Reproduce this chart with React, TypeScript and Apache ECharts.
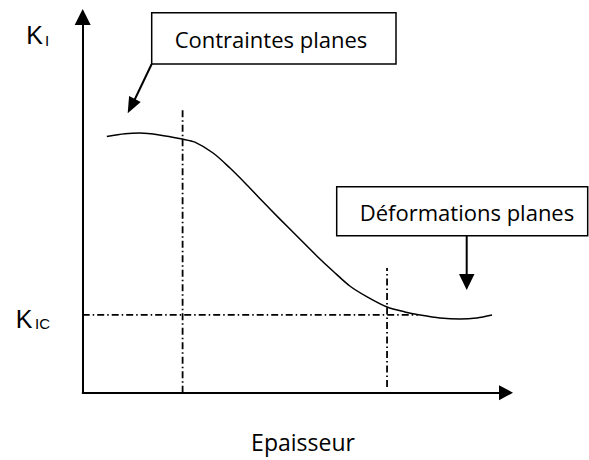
import React, { useEffect, useRef } from "react";
import * as echarts from "echarts";

// Curve K_I vs thickness (arbitrary units, x: 0-100, y: 0-100)
const curveX = [5.7, 10.0, 13.5, 18.1, 23.5, 26.5, 30.8, 34.8, 38.8, 42.6, 46.6, 51.3, 55.3, 59.1, 63.1, 67.2, 71.9, 76.1, 79.7, 84.4, 89.1, 93.1, 96.7];
const curveY = [68.2, 68.9, 69.1, 68.6, 67.5, 66.7, 63.8, 59.8, 55.3, 50.8, 46.2, 40.9, 36.4, 32.4, 28.4, 25.5, 22.8, 21.5, 20.7, 19.9, 19.6, 19.9, 20.7];

// Reference lines
const kIC = 20.7;
const kICEndX = 79.2;
const planeStressX = 23.6;
const planeStressTop = 75.2;
const planeStrainX = 71.9;
const planeStrainRange = [1.5, 33.2];

const labels = {
  yName: "K",
  ySub: "I",
  kicMain: "K",
  kicSub: "IC",
  xName: "Epaisseur",
  box1: "Contraintes planes",
  box2: "Déformations planes",
};

const FONT = "'Open Sans', sans-serif";
const KFONT = "'Liberation Sans', Arial, sans-serif";

export default function App() {
  const ref = useRef<HTMLDivElement>(null);
  useEffect(() => {
    if (!ref.current) return;
    const chart = echarts.init(ref.current, null, { renderer: "svg" });
    const dashDot = { color: "#000", width: 1.8, type: [7, 3, 1.5, 3] as any };
    const axisCommon = {
      type: "value" as const,
      min: 0,
      max: 100,
      axisTick: { show: false },
      axisLabel: { show: false },
      splitLine: { show: false },
    };
    chart.setOption({
      animation: false,
      backgroundColor: "#fff",
      grid: { left: 82.7, right: 83, top: 17, bottom: 67.3 },
      xAxis: {
        ...axisCommon,
        axisLine: { show: true, symbol: ["none", "triangle"], symbolSize: [15, 14], lineStyle: { color: "#000", width: 2 } },
      },
      yAxis: {
        ...axisCommon,
        axisLine: { show: true, symbol: ["none", "triangle"], symbolSize: [16, 16], lineStyle: { color: "#000", width: 2 } },
      },
      series: [
        {
          type: "line",
          data: curveX.map((x, i) => [x, curveY[i]]),
          smooth: 0.3,
          symbol: "none",
          lineStyle: { color: "#000", width: 1.5 },
          z: 3,
        },
        {
          type: "line",
          data: [[0, kIC], [kICEndX, kIC]],
          symbol: "none",
          lineStyle: dashDot,
        },
        {
          type: "line",
          data: [[planeStressX, 0], [planeStressX, planeStressTop]],
          symbol: "none",
          lineStyle: dashDot,
        },
        {
          type: "line",
          data: [[planeStrainX, planeStrainRange[0]], [planeStrainX, planeStrainRange[1]]],
          symbol: "none",
          lineStyle: dashDot,
        },
      ],
      graphic: [
        { type: "rect", shape: { x: 151.7, y: 12.7, width: 244.3, height: 51.3 }, style: { fill: "#fff", stroke: "#000", lineWidth: 1.5 } },
        { type: "text", x: 271, y: 38.5, style: { text: labels.box1, fontSize: 22, fontFamily: FONT, fill: "#000", align: "center", verticalAlign: "middle" } },
        { type: "line", shape: { x1: 151.7, y1: 64, x2: 134.5, y2: 100 }, style: { stroke: "#000", lineWidth: 2 } },
        { type: "polygon", shape: { points: [[127.7, 113.3], [129.1, 96.1], [140.7, 101.9]] }, style: { fill: "#000" } },

        { type: "rect", shape: { x: 336.7, y: 186.7, width: 251, height: 49 }, style: { fill: "#fff", stroke: "#000", lineWidth: 1.5 } },
        { type: "text", x: 467, y: 211.5, style: { text: labels.box2, fontSize: 22, fontFamily: FONT, fill: "#000", align: "center", verticalAlign: "middle" } },
        { type: "line", shape: { x1: 466.7, y1: 236, x2: 466.7, y2: 276 }, style: { stroke: "#000", lineWidth: 2 } },
        { type: "polygon", shape: { points: [[459, 274], [474.5, 274], [466.7, 290]] }, style: { fill: "#000" } },

        { type: "text", x: 34.7, y: 34.5, style: { text: labels.yName, fontSize: 25, fontFamily: KFONT, fill: "#000", align: "center", verticalAlign: "middle" } },
        { type: "text", x: 47, y: 40.5, style: { text: labels.ySub, fontSize: 15, fontFamily: KFONT, fill: "#000", align: "center", verticalAlign: "middle" } },
        { type: "text", x: 24, y: 318.5, style: { text: labels.kicMain, fontSize: 25, fontFamily: KFONT, fill: "#000", align: "center", verticalAlign: "middle" } },
        { type: "text", x: 42.5, y: 323.7, style: { text: labels.kicSub, fontSize: 15, fontFamily: KFONT, fill: "#000", align: "center", verticalAlign: "middle" } },
        { type: "text", x: 303, y: 442, style: { text: labels.xName, fontSize: 23, fontFamily: FONT, fill: "#000", align: "center", verticalAlign: "middle" } },
      ],
    });
    return () => chart.dispose();
  }, []);
  return (
    <div
      ref={ref}
      style={{ position: "absolute", left: 0, top: 0, width: 589, height: 460, background: "#fff" }}
    />
  );
}
